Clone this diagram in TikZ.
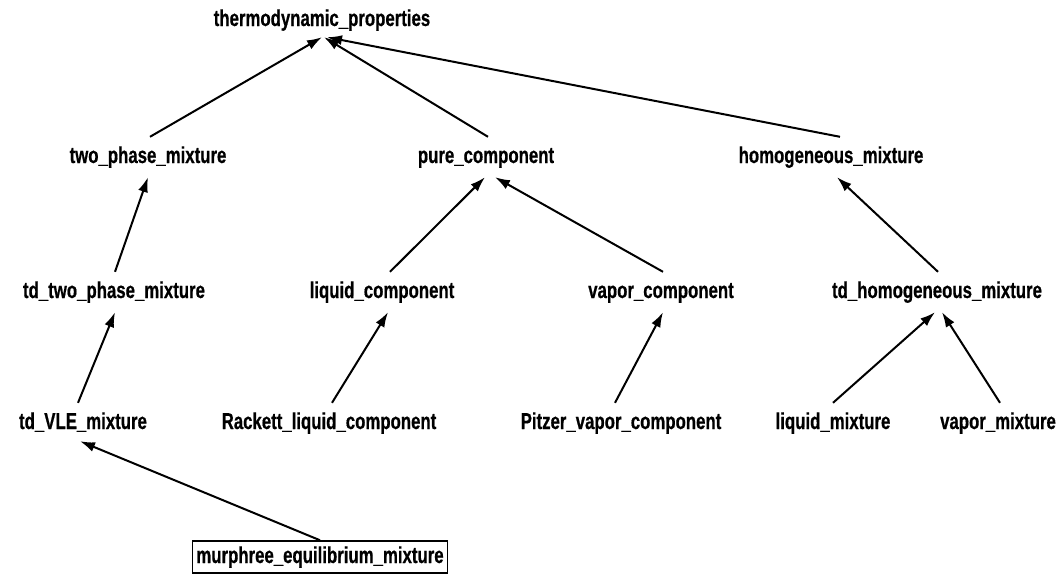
\documentclass[tikz,border=0pt]{standalone}
\usepackage{fontspec}
\newfontfamily\lblfont{Liberation Sans}[FakeStretch=0.73,FakeBold=0.6]
\usetikzlibrary{arrows.meta}
\begin{document}
\begin{tikzpicture}[x=1pt,y=-1pt,
  lbl/.style={inner sep=0pt, minimum height=40pt, text height=16pt, text depth=4pt,
    font=\lblfont\bfseries\fontsize{23}{26}\selectfont},
  boxed/.style={lbl, draw, line width=1.5pt, minimum height=32pt, minimum width=255pt},
  arr/.style={line width=2pt, -{Latex[length=15pt,width=10pt]}}]
\useasboundingbox (0,0) rectangle (1063,576);
% level 0
\node[lbl] (thermo) at (322,20) {thermodynamic\_properties};
% level 1
\node[lbl] (twophase) at (148,157) {two\_phase\_mixture};
\node[lbl] (pure) at (486,157) {pure\_component};
\node[lbl] (homog) at (831,157) {homogeneous\_mixture};
% level 2
\node[lbl] (tdtwo) at (114,292) {td\_two\_phase\_mixture};
\node[lbl] (liqcomp) at (382,292) {liquid\_component};
\node[lbl] (vapcomp) at (661,292) {vapor\_component};
\node[lbl] (tdhomog) at (937,292) {td\_homogeneous\_mixture};
% level 3
\node[lbl] (tdvle) at (83,423) {td\_VLE\_mixture};
\node[lbl] (rackett) at (329,423) {Rackett\_liquid\_component};
\node[lbl] (pitzer) at (621,423) {Pitzer\_vapor\_component};
\node[lbl] (liqmix) at (833,423) {liquid\_mixture};
\node[lbl] (vapmix) at (998,423) {vapor\_mixture};
% level 4
\node[boxed] (murphree) at (320,557) {murphree\_equilibrium\_mixture};
% edges
\draw[arr] ([xshift=2pt]twophase.north) -- ([xshift=0pt,yshift=3pt]thermo.south);
\draw[arr] ([xshift=2pt]pure.north) -- ([xshift=2pt,yshift=3pt]thermo.south);
\draw[arr] ([xshift=9pt]homog.north) -- ([xshift=5pt,yshift=3pt]thermo.south);
\draw[arr] ([xshift=1pt]tdtwo.north) -- (twophase.south);
\draw[arr] ([xshift=8pt]liqcomp.north) -- ([xshift=-1pt]pure.south);
\draw[arr] ([xshift=2pt]vapcomp.north) -- ([xshift=9pt]pure.south);
\draw[arr] ([xshift=1pt]tdhomog.north) -- ([xshift=6pt]homog.south);
\draw[arr] ([xshift=-5pt]tdvle.north) -- ([xshift=1pt]tdtwo.south);
\draw[arr] ([xshift=3pt]rackett.north) -- ([xshift=6pt]liqcomp.south);
\draw[arr] ([xshift=-6pt]pitzer.north) -- ([xshift=2pt]vapcomp.south);
\draw[arr] (liqmix.north) -- ([xshift=-2pt]tdhomog.south);
\draw[arr] ([xshift=2pt]vapmix.north) -- ([xshift=5pt]tdhomog.south);
\draw[arr] (murphree.north) -- ([xshift=-3pt,yshift=2pt]tdvle.south);
\end{tikzpicture}
\end{document}
